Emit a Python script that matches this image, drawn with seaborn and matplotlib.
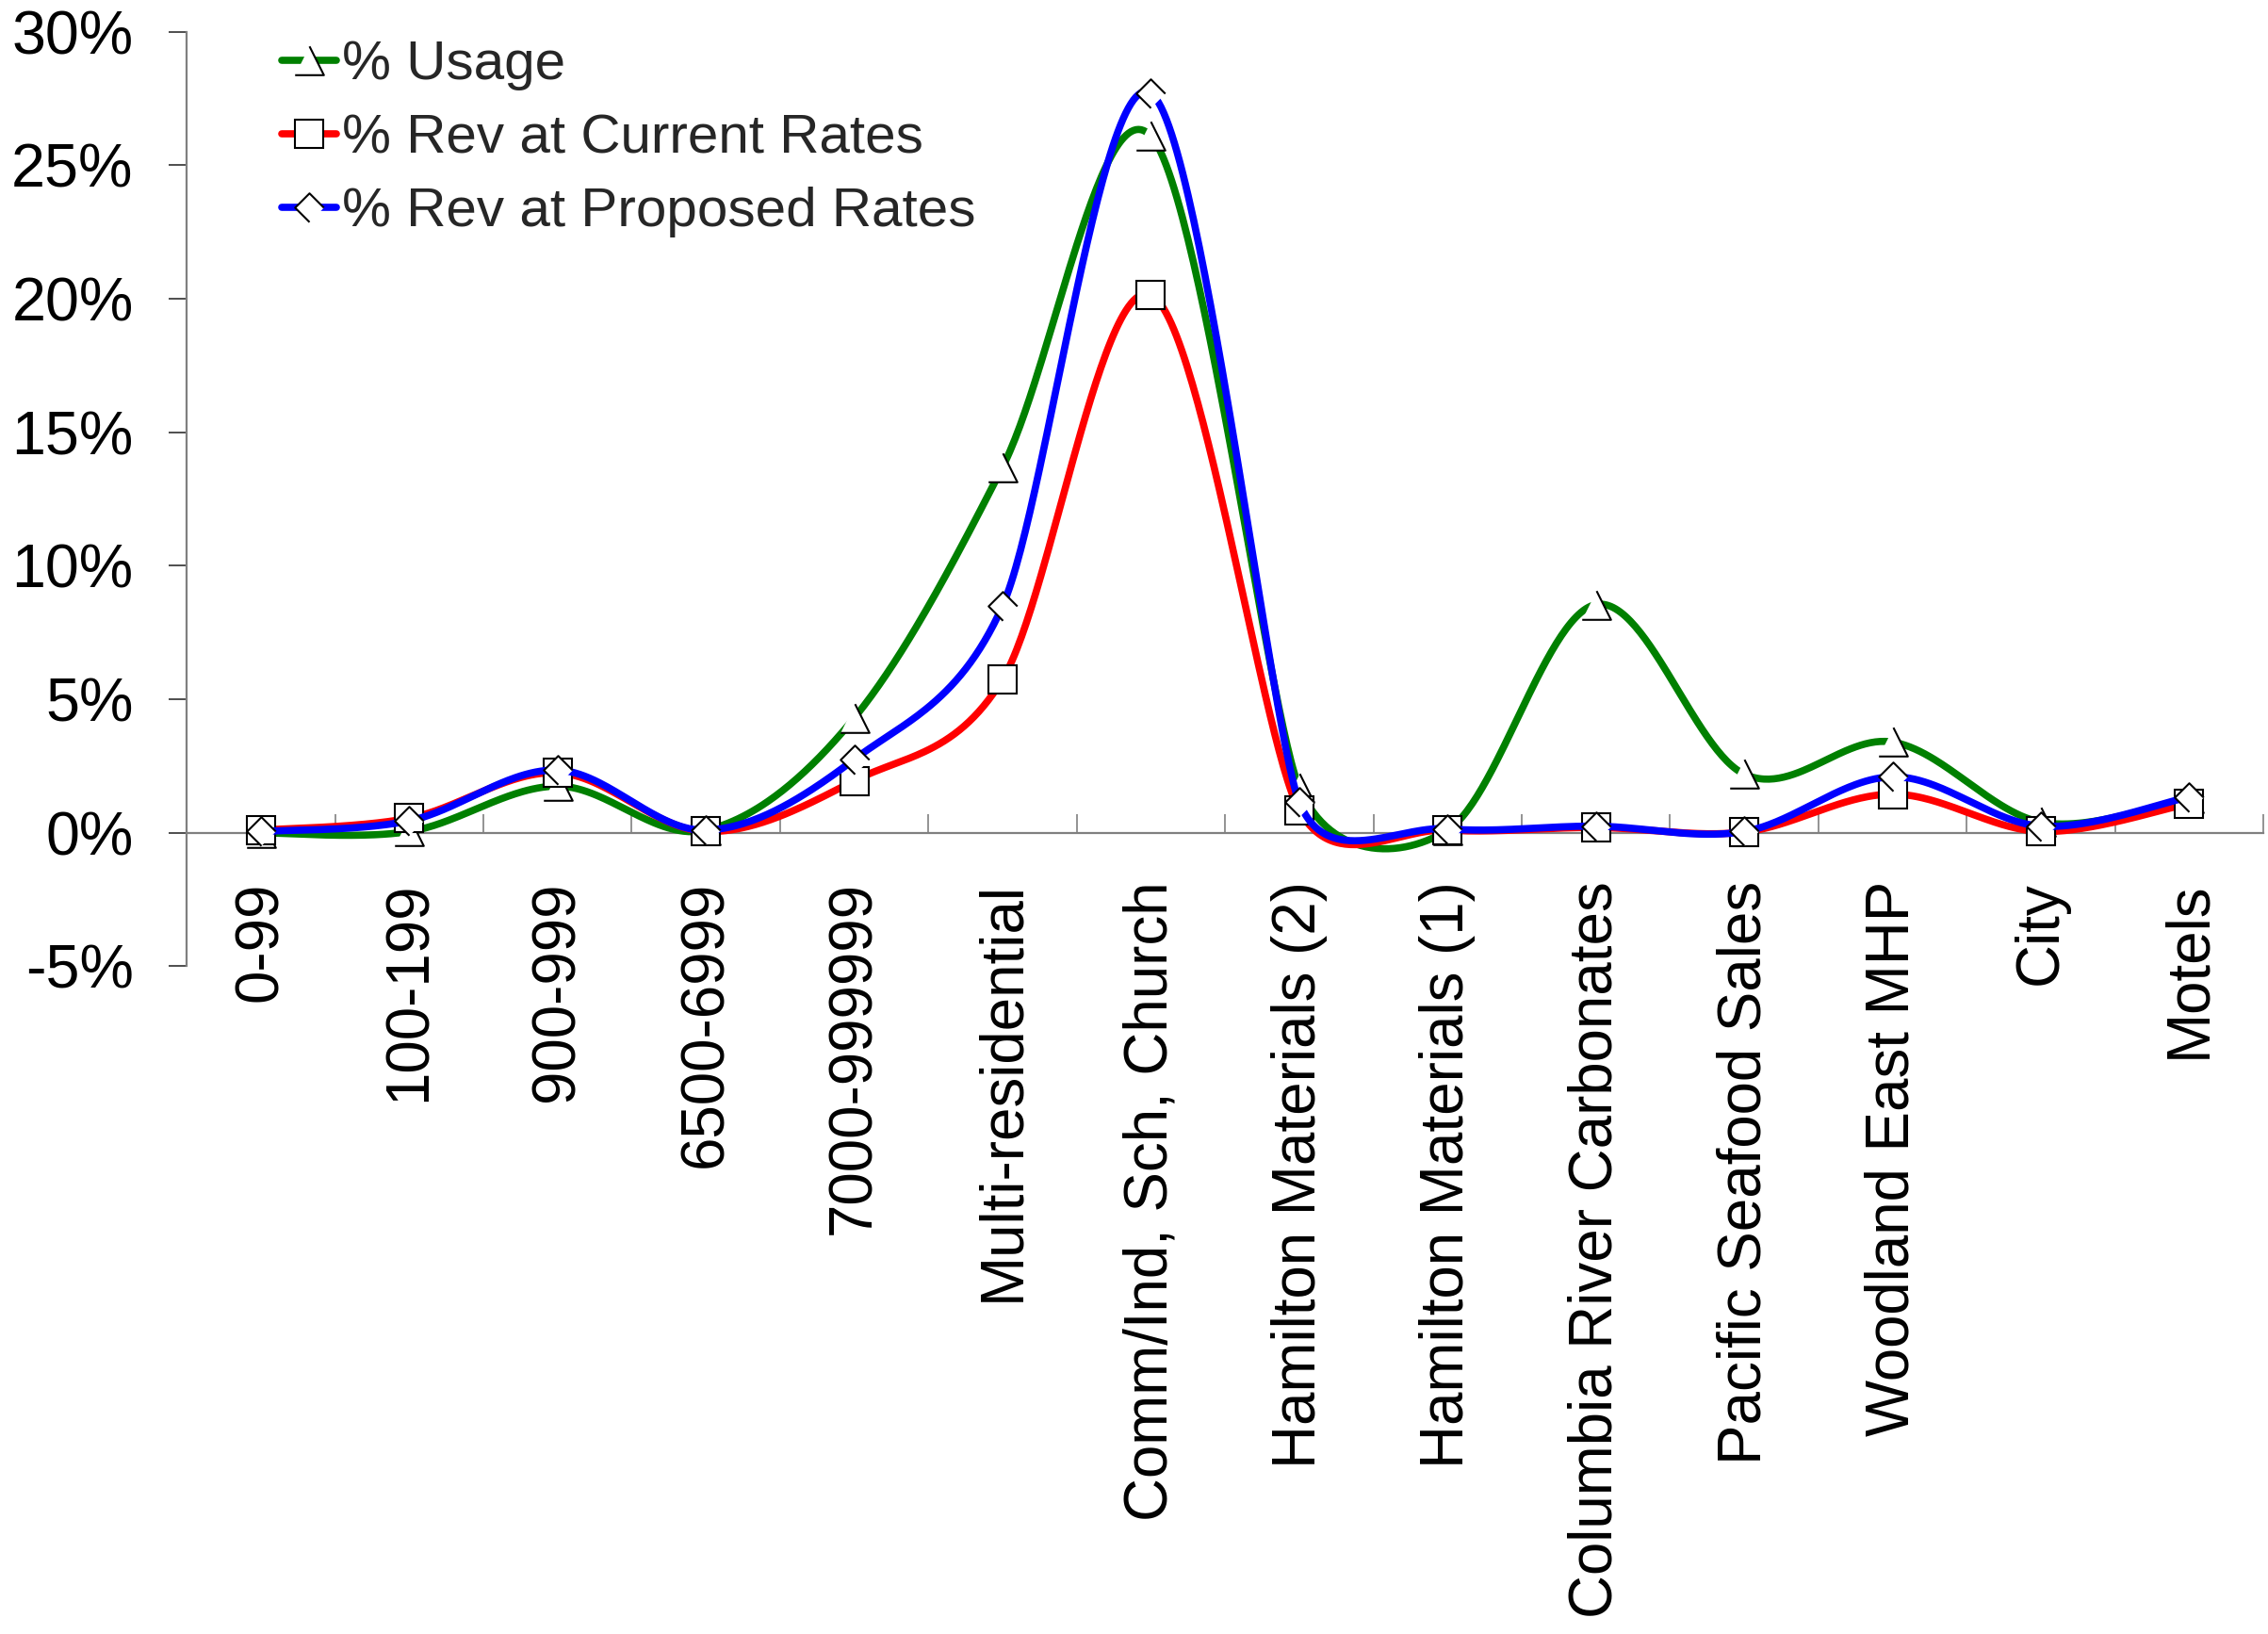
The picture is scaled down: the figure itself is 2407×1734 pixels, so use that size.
import numpy as np
import matplotlib
matplotlib.use("Agg")
import matplotlib.pyplot as plt
import seaborn as sns
from matplotlib.path import Path
from matplotlib.lines import Line2D
from matplotlib.ticker import FixedLocator, FuncFormatter

# ---- data (percent of total) ----
categories = [
    "0-99", "100-199", "900-999", "6500-6999", "7000-999999",
    "Multi-residential", "Comm/Ind, Sch, Church", "Hamilton Materials (2)",
    "Hamilton Materials (1)", "Columbia River Carbonates", "Pacific Seafood Sales",
    "Woodland East MHP", "City", "Motels",
]
usage = [0.0, 0.05, 1.75, 0.1, 4.3, 13.7, 26.1, 1.7, 0.1, 8.55, 2.2, 3.4, 0.4, 1.3]
rev_current = [0.1, 0.55, 2.25, 0.05, 1.95, 5.75, 20.15, 0.85, 0.1, 0.2, 0.03, 1.45, 0.05, 1.1]
rev_proposed = [0.05, 0.45, 2.35, 0.1, 2.75, 8.5, 27.7, 1.15, 0.15, 0.25, 0.05, 2.1, 0.25, 1.35]

series_labels = ["% Usage", "% Rev at Current Rates", "% Rev at Proposed Rates"]
y_ticks = [-5, 0, 5, 10, 15, 20, 25, 30]

# ---- styling ----
sns.set_style("white")
plt.rcParams["font.family"] = ["Liberation Sans", "DejaVu Sans"]

# open-outline markers: the fill is the full shape, the stroke leaves one side open
tri_marker = Path([(0, 1), (1, -1), (-1, -1)],
                  [Path.MOVETO, Path.LINETO, Path.LINETO])
sq_marker = "s"
dia_marker = Path([(0, -1), (-1, 0), (0, 1), (1, 0)],
                  [Path.MOVETO, Path.LINETO, Path.LINETO, Path.LINETO])

colors = ["#008000", "#FF0000", "#0000FF"]
markers = [tri_marker, sq_marker, dia_marker]
values = [usage, rev_current, rev_proposed]

LW = 5.5
MS = 22
MEW = 1.5
FS_YTICK = 46.5
FS_XTICK = 45.8

fig = plt.figure(figsize=(24.07, 17.34), dpi=100)
ax = fig.add_axes([0.0823, 0.4086, 0.9157, 0.5719])
ax.set_xlim(-0.5, len(categories) - 0.5)
ax.set_ylim(-5, 30)


def smooth_path(xs, ys, steps=60):
    """Spreadsheet-style Bezier smoothing, computed in display space.

    Control arms follow the neighbour chord (P[i+1] - P[i-1]); their length is
    one sixth of that chord, limited to half of either adjacent segment.
    """
    disp = ax.transData.transform(np.column_stack([xs, ys]))
    n = len(disp)
    arms = np.zeros_like(disp)
    for i in range(n):
        if 0 < i < n - 1:
            chord = disp[i + 1] - disp[i - 1]
            d02 = np.linalg.norm(chord)
            d01 = np.linalg.norm(disp[i] - disp[i - 1])
            d12 = np.linalg.norm(disp[i + 1] - disp[i])
            length = min(d02 / 6.0, d01 / 2.0, d12 / 2.0)
            arms[i] = chord / d02 * length if d02 > 0 else 0.0
        elif i == 0:
            arms[i] = (disp[1] - disp[0]) / 6.0
        else:
            arms[i] = (disp[-1] - disp[-2]) / 6.0
    pieces = []
    for i in range(n - 1):
        p0 = disp[i]
        c1 = disp[i] + arms[i]
        c2 = disp[i + 1] - arms[i + 1]
        p3 = disp[i + 1]
        t = np.linspace(0, 1, steps, endpoint=(i == n - 2))[:, None]
        seg = ((1 - t) ** 3) * p0 + 3 * ((1 - t) ** 2) * t * c1 \
            + 3 * (1 - t) * t ** 2 * c2 + t ** 3 * p3
        pieces.append(seg)
    curve = ax.transData.inverted().transform(np.vstack(pieces))
    return curve[:, 0], curve[:, 1]


x_pos = np.arange(len(categories))
for k, (vals, col, mk) in enumerate(zip(values, colors, markers)):
    cx, cy = smooth_path(x_pos, vals)
    sns.lineplot(x=cx, y=cy, sort=False, estimator=None, color=col,
                 linewidth=LW, ax=ax, zorder=3 + 2 * k, legend=False)
    ax.plot(x_pos, vals, linestyle="none", marker=mk, markersize=MS,
            markerfacecolor="white", markeredgecolor="black",
            markeredgewidth=MEW, zorder=4 + 2 * k, clip_on=False)

# ---- axes ----
for side in ("top", "right"):
    ax.spines[side].set_visible(False)
ax.spines["left"].set_color("#808080")
ax.spines["left"].set_linewidth(1.6)
ax.spines["bottom"].set_position(("data", 0))
ax.spines["bottom"].set_color("#808080")
ax.spines["bottom"].set_linewidth(1.6)

ax.yaxis.set_major_locator(FixedLocator(y_ticks))
ax.yaxis.set_major_formatter(FuncFormatter(lambda v, p: f"{v:.0f}%"))
ax.tick_params(axis="y", which="major", left=True, direction="out",
               length=13.7, width=1.2, color="#303030", pad=27,
               labelsize=FS_YTICK, labelcolor="black")

ax.set_xticks(x_pos)
ax.set_xticklabels(categories, rotation=90)
ax.xaxis.set_minor_locator(FixedLocator(np.arange(0.5, len(categories), 1.0)))
ax.tick_params(axis="x", which="major", bottom=True, length=0, pad=37,
               labelsize=FS_XTICK, labelcolor="black")
ax.tick_params(axis="x", which="minor", bottom=True, direction="in",
               length=14.4, width=1.2, color="#808080")
ax.grid(False)

# ---- legend ----
handles = [
    Line2D([], [], color=col, linewidth=LW, marker=mk, markersize=MS,
           markerfacecolor="white", markeredgecolor="black",
           markeredgewidth=MEW)
    for col, mk in zip(colors, markers)
]
ax.legend(handles, series_labels, loc="upper left",
          bbox_to_anchor=(299 / 2407, 1 - 42.5 / 1734),
          bbox_transform=fig.transFigure, frameon=False, fontsize=42,
          handlelength=1.0, handletextpad=0.1, labelspacing=0.41,
          borderpad=0, borderaxespad=0, numpoints=1)

fig.savefig("out.png", dpi=100, facecolor="white")
